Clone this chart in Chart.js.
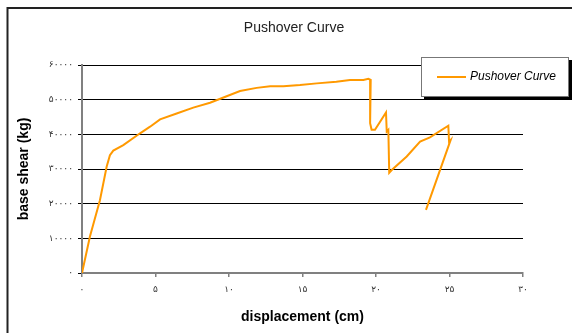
<!DOCTYPE html>
<html>

<head>
    <title>Pushover Curve</title>
    <script src="https://cdn.jsdelivr.net/npm/chart.js"></script>
    <style>
        body { margin: 0; background: #fff; }
        #wrap { width: 572px; height: 333px; position: relative; }
    </style>
</head>

<body>
    <div id="wrap"><canvas id="pushoverChart"></canvas></div>

    <script>
        // displacement (cm) / base shear (kg)
        const displacement = [0, 0.54, 1.22, 1.68, 1.9, 2.13, 2.81, 3.95, 4.63, 5.31,
            6.44, 7.57, 8.71, 9.84, 10.75, 11.88, 12.8, 13.7, 14.83, 15.97,
            17.3, 18.23, 19.14, 19.48, 19.64, 19.6, 19.7, 19.93, 20.68, 20.73,
            20.84, 20.9, 21.07, 22.09, 23.0, 23.67, 24.92, 24.97, 25.08, 23.4];
        const baseShear = [0, 10500, 21000, 30700, 34000, 35300, 36900, 40300, 42200, 44300,
            46000, 47700, 49100, 51000, 52500, 53400, 53900, 53900, 54200, 54700,
            55200, 55700, 55700, 56000, 55700, 43200, 41300, 41300, 46300, 40800,
            41300, 28900, 29700, 33600, 37900, 39100, 42500, 37900, 38400, 18200];

        // tick labels are Persian digits in the original
        const xTickLabels = ['۰', '۵', '۱۰', '۱۵', '۲۰', '۲۵', '۳۰'];
        const yTickLabels = ['۰', '۱۰۰۰۰', '۲۰۰۰۰', '۳۰۰۰۰', '۴۰۰۰۰', '۵۰۰۰۰', '۶۰۰۰۰'];

        const seriesName = 'Pushover Curve';
        const chartTitle = 'Pushover Curve';

        const points = displacement.map((x, i) => ({ x: x, y: baseShear[i] }));

        // frame, title and the boxed legend with its shadow
        const decorations = {
            id: 'decorations',
            afterDraw(chart) {
                const c = chart.ctx;
                c.save();
                c.strokeStyle = '#222';
                c.lineWidth = 2;
                c.beginPath();
                c.moveTo(7.5, 333);
                c.lineTo(7.5, 8);
                c.lineTo(572, 8);
                c.stroke();

                c.fillStyle = '#222';
                c.font = '14px "Liberation Sans", Arial, sans-serif';
                c.textAlign = 'center';
                c.textBaseline = 'middle';
                c.fillText(chartTitle, 294, 28);

                // legend
                c.fillStyle = '#000';
                c.fillRect(424, 60, 148, 40);
                c.fillStyle = '#fff';
                c.fillRect(421, 57, 148, 40);
                c.strokeStyle = '#777';
                c.lineWidth = 1;
                c.strokeRect(421.5, 57.5, 147, 39);
                c.strokeStyle = '#FF9900';
                c.lineWidth = 2;
                c.beginPath();
                c.moveTo(437, 77);
                c.lineTo(466, 77);
                c.stroke();
                c.fillStyle = '#000';
                c.font = 'italic 12px "Liberation Sans", Arial, sans-serif';
                c.textAlign = 'left';
                c.fillText(chart.data.datasets[0].label, 470, 77);
                c.restore();
            }
        };

        const ctx = document.getElementById('pushoverChart').getContext('2d');
        const pushoverChart = new Chart(ctx, {
            type: 'scatter',
            data: {
                datasets: [{
                    label: seriesName,
                    data: points,
                    showLine: true,
                    borderColor: '#FF9900',
                    borderWidth: 2,
                    pointRadius: 0,
                    tension: 0
                }]
            },
            options: {
                responsive: true,
                maintainAspectRatio: false,
                animation: false,
                layout: { padding: { left: 0, top: 65, right: 49, bottom: 0 } },
                plugins: {
                    legend: { display: false },
                    tooltip: { enabled: false }
                },
                scales: {
                    x: {
                        type: 'linear',
                        min: 0,
                        max: 30,
                        afterFit: s => { s.height = 60; },
                        grid: { drawOnChartArea: false, tickLength: 4, tickColor: '#808080', lineWidth: 1.5 },
                        border: { color: '#808080', width: 2 },
                        ticks: {
                            stepSize: 5,
                            autoSkip: false,
                            maxRotation: 0,
                            padding: 7,
                            color: '#333',
                            font: { family: '"DejaVu Sans", sans-serif', size: 9 },
                            callback: (v, i) => xTickLabels[i]
                        },
                        title: {
                            display: true,
                            text: 'displacement (cm)',
                            color: '#000',
                            padding: { top: 0, bottom: 7 },
                            font: { family: '"Liberation Sans", Arial, sans-serif', size: 14, weight: 'bold' }
                        }
                    },
                    y: {
                        min: 0,
                        max: 60000,
                        afterFit: s => { s.width = 82; },
                        grid: {
                            color: c => (c.tick && c.tick.value === 0) ? 'rgba(0,0,0,0)' : '#000',
                            tickColor: '#000',
                            tickLength: 4,
                            lineWidth: 1
                        },
                        border: { color: '#808080', width: 2 },
                        ticks: {
                            stepSize: 10000,
                            padding: 5,
                            color: '#333',
                            font: { family: '"DejaVu Sans", sans-serif', size: 9 },
                            callback: (v, i) => yTickLabels[i]
                        },
                        title: {
                            display: true,
                            text: 'base shear (kg)',
                            color: '#000',
                            padding: { top: 16, bottom: 0 },
                            font: { family: '"Liberation Sans", Arial, sans-serif', size: 14, weight: 'bold' }
                        }
                    }
                }
            },
            plugins: [decorations]
        });
    </script>
</body>

</html>
